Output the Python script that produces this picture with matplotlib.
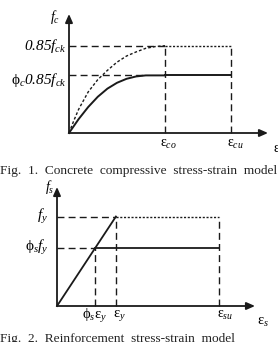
import matplotlib; matplotlib.use("Agg")
import matplotlib.pyplot as plt

plt.rcParams["font.family"] = "Liberation Serif"
plt.rcParams["mathtext.fontset"] = "custom"
plt.rcParams["mathtext.rm"] = "Liberation Serif"
plt.rcParams["mathtext.it"] = "Liberation Serif:italic"
plt.rcParams["mathtext.cal"] = "Liberation Serif:italic"  # used for italic digits

# Fig. 1 - concrete (strain in 1e-3, stress in fck units)
eps_co = 2.0
eps_cu = 3.38
fck_85 = 0.85
phi_c = 0.66
# dotted parabola up to eps_co
conc_eps = [0, 0.1, 0.2, 0.4, 0.6, 0.8, 1.0, 1.2, 1.4, 1.6, 1.8, 2.0]
conc_full = [0, 0.12, 0.23, 0.40, 0.52, 0.61, 0.69, 0.75, 0.79, 0.825, 0.842, 0.85]
# solid reduced curve
red_eps = [0, 0.2, 0.4, 0.6, 0.8, 1.0, 1.2, 1.4, 1.6, 2.0]
red_stress = [0, 0.135, 0.253, 0.353, 0.432, 0.489, 0.528, 0.551, 0.561, 0.561]

# Fig. 2 - reinforcement
eps_y = 1.0
phi_s = 0.65
fy = 1.0
eps_su = 2.75

fig = plt.figure(figsize=(2.78, 3.42), dpi=100)
W, H = 278, 342
col = "#1a1a1a"


def axes_px(x0, y0, x1, y1):
    # pixel box (origin, arrow tips) -> axes
    return fig.add_axes([x0 / W, 1 - y0 / H, (x1 - x0) / W, (y0 - y1) / H])


def draw_axes(ax, xmax, ymax):
    ax.set_xlim(0, xmax)
    ax.set_ylim(0, ymax)
    ax.axis("off")
    kw = dict(arrowstyle="-|>,head_length=0.5,head_width=0.22", color=col, lw=1.3,
              shrinkA=0, shrinkB=0)
    ax.annotate("", xy=(xmax, 0), xytext=(0, 0), arrowprops=kw, annotation_clip=False)
    ax.annotate("", xy=(0, ymax), xytext=(0, 0), arrowprops=kw, annotation_clip=False)


dash = dict(color=col, lw=1.0, ls=(0, (5, 3)), clip_on=False)
dots = dict(color=col, lw=1.0, ls=(0, (1.5, 1.2)), clip_on=False)

# ---- Fig. 1
ax = axes_px(69, 133, 268, 14)
draw_axes(ax, 4.146, 1.159)
ax.plot(conc_eps, conc_full, color=col, lw=1.0, ls=(0, (2, 1.5)), clip_on=False)
ax.plot([eps_co, eps_cu], [fck_85, fck_85], **dots)
ax.plot(red_eps, red_stress, color=col, lw=1.4, clip_on=False)
ax.plot([eps_co, eps_cu], [phi_c * fck_85, phi_c * fck_85], color=col, lw=1.4, clip_on=False)
ax.plot([0, eps_co], [fck_85, fck_85], **dash)
ax.plot([0, 1.55], [phi_c * fck_85, phi_c * fck_85], **dash)
ax.plot([eps_co, eps_co], [0, fck_85], **dash)
ax.plot([eps_cu, eps_cu], [0, fck_85], **dash)

ax.text(-0.05, fck_85, r"$\mathcal{0.85}f_{ck}$", ha="right", va="center", fontsize=11)
ax.text(-0.05, phi_c * fck_85 - 0.04, r"$\mathrm{\phi}_c\mathcal{0.85}f_{ck}$",
        ha="right", va="center", fontsize=11)
ax.text(-0.3, 1.13, r"$f_c$", ha="center", va="center", fontsize=10)
ax.text(eps_co + 0.08, -0.11, r"$\mathrm{\varepsilon}_{co}$", ha="center", va="center", fontsize=10)
ax.text(eps_cu + 0.08, -0.11, r"$\mathrm{\varepsilon}_{cu}$", ha="center", va="center", fontsize=10)
ax.text(4.24, -0.17, r"$\mathrm{\varepsilon}_{c}$", ha="left", va="center", fontsize=10)

# ---- Fig. 2
ax2 = axes_px(57, 306, 255, 187)
draw_axes(ax2, 3.36, 1.33)
ax2.plot([0, eps_y], [0, fy], color=col, lw=1.3, clip_on=False)
ax2.plot([eps_y, eps_su], [fy, fy], **dots)
ax2.plot([phi_s * eps_y, eps_su], [phi_s * fy, phi_s * fy], color=col, lw=1.3, clip_on=False)
ax2.plot([0, eps_y], [fy, fy], **dash)
ax2.plot([0, phi_s * eps_y], [phi_s * fy, phi_s * fy], **dash)
ax2.plot([eps_y, eps_y], [0, fy], **dash)
ax2.plot([phi_s * eps_y, phi_s * eps_y], [0, phi_s * fy], **dash)
ax2.plot([eps_su, eps_su], [0, fy], **dash)

ax2.text(-0.15, fy, r"$f_y$", ha="right", va="center", fontsize=11)
ax2.text(-0.15, phi_s * fy, r"$\mathrm{\phi}_s f_y$", ha="right", va="center", fontsize=11)
ax2.text(-0.12, 1.33, r"$f_s$", ha="center", va="center", fontsize=10)
ax2.text(phi_s * eps_y - 0.02, -0.11, r"$\mathrm{\phi}_s\mathrm{\varepsilon}_y$",
         ha="center", va="center", fontsize=10.5)
ax2.text(eps_y + 0.06, -0.11, r"$\mathrm{\varepsilon}_y$", ha="center", va="center", fontsize=10.5)
ax2.text(eps_su + 0.1, -0.11, r"$\mathrm{\varepsilon}_{su}$", ha="center", va="center", fontsize=10)
ax2.text(3.4, -0.18, r"$\mathrm{\varepsilon}_{s}$", ha="left", va="center", fontsize=10.5)

fig.text(0 / W, 1 - 171 / H, "Fig.  1.  Concrete  compressive  stress-strain  model",
         ha="left", va="center", fontsize=9.6, color="#222222")
fig.text(0 / W, 1 - 339 / H, "Fig.  2.  Reinforcement  stress-strain  model",
         ha="left", va="center", fontsize=9.6, color="#222222")

fig.savefig("out.png", dpi=100)
